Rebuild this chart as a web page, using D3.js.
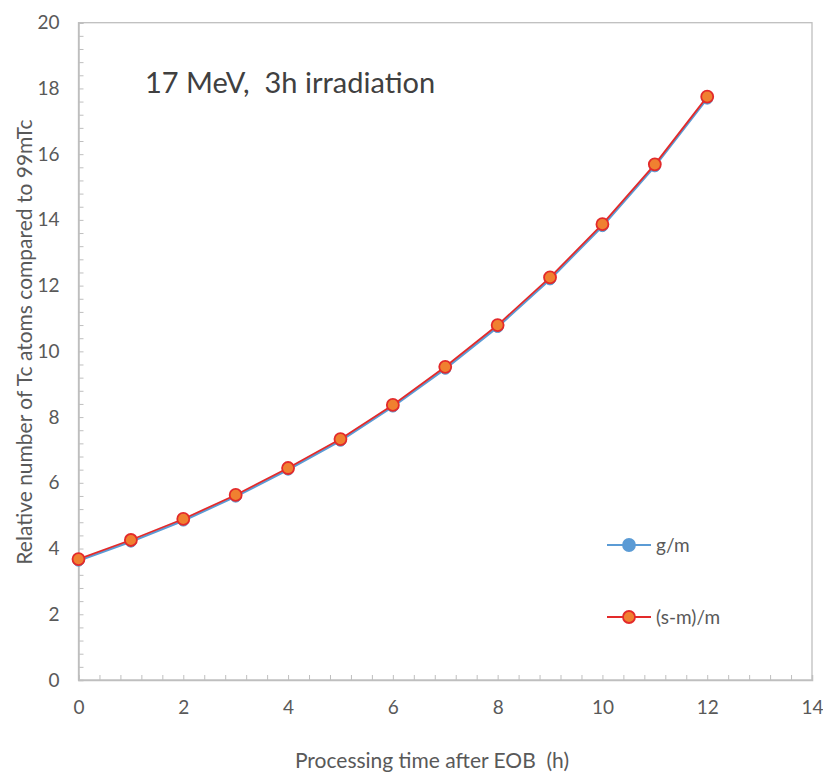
<!DOCTYPE html>
<html><head><meta charset="utf-8">
<script src="https://cdn.jsdelivr.net/npm/d3@7"></script>
<style>body{margin:0;background:#fff}svg{display:block}text{font-family:Lato,"Open Sans",sans-serif;white-space:pre}</style>
</head><body>
<svg id="c" width="823" height="776"></svg>
<script>
const hours = [0,1,2,3,4,5,6,7,8,9,10,11,12];
const gm   = [3.66,4.24,4.88,5.61,6.43,7.31,8.35,9.50,10.77,12.22,13.84,15.66,17.72];
const smm  = [3.68,4.26,4.90,5.63,6.45,7.33,8.37,9.53,10.80,12.25,13.87,15.69,17.75];
const seriesNames = ["g/m","(s-m)/m"];
const xTicks = [0,2,4,6,8,10,12,14];
const yTicks = [0,2,4,6,8,10,12,14,16,18,20];
const title = "17 MeV,  3h irradiation";
const xLabel = "Processing time after EOB  (h)";
const yLabel = "Relative number of Tc atoms compared to 99mTc";

const svg = d3.select("#c");
const L=78.5, R=812, T=22.7, B=680;
const x = d3.scaleLinear().domain([0,14]).range([L,R]);
const y = d3.scaleLinear().domain([0,20]).range([B,T]);
const axisCol="#BFBFBF", textCol="#595959";

// plot border
svg.append("rect").attr("x",L).attr("y",T).attr("width",R-L).attr("height",B-T)
  .attr("fill","none").attr("stroke",axisCol).attr("stroke-width",1.3);

// minor ticks (every 0.4)
const gx = svg.append("g").attr("transform",`translate(0,${B})`)
  .call(d3.axisBottom(x).tickValues(d3.range(0,36).map(i=>i*0.4).filter(v=>v<=14.001)).tickSize(-5).tickFormat(""));
gx.select(".domain").attr("stroke",axisCol).attr("stroke-width",1.5);
gx.selectAll(".tick line").attr("stroke",axisCol);
const gy = svg.append("g").attr("transform",`translate(${L},0)`)
  .call(d3.axisLeft(y).tickValues(d3.range(0,51).map(i=>i*0.4)).tickSize(-5).tickFormat(""));
gy.select(".domain").attr("stroke",axisCol).attr("stroke-width",1.5);
gy.selectAll(".tick line").attr("stroke",axisCol);

// tick labels
const gxl = svg.append("g").attr("transform",`translate(0,${B})`)
  .call(d3.axisBottom(x).tickValues(xTicks).tickSize(0).tickPadding(21).tickFormat(d3.format("d")));
gxl.select(".domain").remove();
gxl.selectAll("text").attr("fill",textCol).style("font-size","19px");
const gyl = svg.append("g").attr("transform",`translate(${L},0)`)
  .call(d3.axisLeft(y).tickValues(yTicks).tickSize(0).tickPadding(19).tickFormat(d3.format("d")));
gyl.select(".domain").remove();
gyl.selectAll("text").attr("fill",textCol).style("font-size","19px");

// axis titles
svg.append("text").attr("x",432).attr("y",768).attr("text-anchor","middle")
  .attr("fill",textCol).style("font-size","21px").text(xLabel);
svg.append("text").attr("transform",`translate(32,342) rotate(-90)`).attr("text-anchor","middle")
  .attr("fill",textCol).style("font-size","21px").text(yLabel);

// title
svg.append("text").attr("x",145).attr("y",93).attr("fill","#404040")
  .style("font-size","29px").text(title);

// series
const line = d3.line().x((d,i)=>x(hours[i])).y(d=>y(d));
const blue="#5B9BD5", red="#E32A2A", orange="#F08030";
svg.append("path").datum(gm).attr("d",line).attr("fill","none").attr("stroke",blue).attr("stroke-width",2.2).attr("transform","translate(0,1)");
svg.selectAll(".pb").data(gm).join("circle").attr("cx",(d,i)=>x(hours[i])).attr("cy",d=>y(d)+1).attr("r",5.5).attr("fill",blue).attr("stroke",blue);
svg.append("path").datum(smm).attr("d",line).attr("fill","none").attr("stroke",red).attr("stroke-width",1.8);
svg.selectAll(".pr").data(smm).join("circle").attr("cx",(d,i)=>x(hours[i])).attr("cy",d=>y(d)).attr("r",6).attr("fill",orange).attr("stroke",red).attr("stroke-width",1.8);

// legend
const leg = [{n:seriesNames[0],c:blue,f:blue,s:blue,y:545},{n:seriesNames[1],c:red,f:orange,s:red,y:617}];
leg.forEach(l=>{
  svg.append("line").attr("x1",607).attr("x2",651).attr("y1",l.y).attr("y2",l.y).attr("stroke",l.c).attr("stroke-width",2);
  svg.append("circle").attr("cx",629).attr("cy",l.y).attr("r",6).attr("fill",l.f).attr("stroke",l.s).attr("stroke-width",1.8);
  svg.append("text").attr("x",656).attr("y",l.y+7).attr("fill",textCol).style("font-size","19px").text(l.n);
});
</script>
</body></html>
